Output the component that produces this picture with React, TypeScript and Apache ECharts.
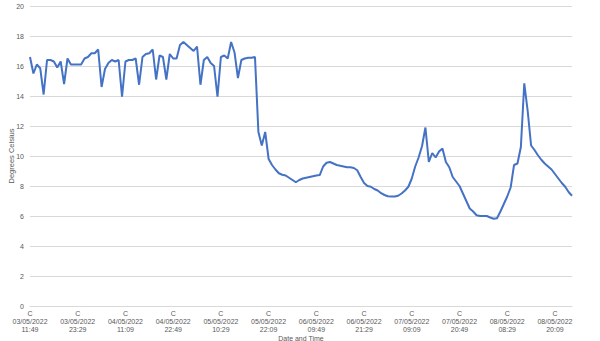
import React, { useEffect, useRef } from "react";
import * as echarts from "echarts";

// Temperature readings (°C), one every 50 minutes starting 03/05/2022 11:49
const temperatures: number[] = [
  16.6, 15.5, 16.1, 15.85, 14.1, 16.4, 16.4, 16.3, 15.9, 16.3,
  14.8, 16.5, 16.1, 16.1, 16.1, 16.1, 16.5, 16.6, 16.85, 16.85,
  17.1, 14.6, 15.8, 16.2, 16.4, 16.3, 16.4, 13.95, 16.3, 16.4,
  16.4, 16.5, 14.75, 16.6, 16.8, 16.85, 17.1, 15.1, 16.7, 16.6,
  15.1, 16.8, 16.5, 16.5, 17.4, 17.6, 17.4, 17.2, 17.0, 17.3,
  14.75, 16.4, 16.6, 16.2, 16.0, 13.95, 16.6, 16.7, 16.5, 17.6,
  16.9, 15.2, 16.4, 16.5, 16.55, 16.55, 16.6, 11.6, 10.7, 11.6,
  9.8, 9.4, 9.1, 8.85, 8.75, 8.7, 8.55, 8.4, 8.25, 8.4,
  8.5, 8.55, 8.6, 8.65, 8.7, 8.73, 9.3, 9.55, 9.6, 9.5,
  9.4, 9.35, 9.3, 9.25, 9.25, 9.2, 9.05, 8.6, 8.2, 8.0,
  7.95, 7.8, 7.7, 7.52, 7.4, 7.32, 7.3, 7.3, 7.35, 7.5,
  7.7, 7.95, 8.5, 9.3, 9.9, 10.65, 11.9, 9.6, 10.2, 9.9,
  10.3, 10.5, 9.6, 9.25, 8.6, 8.3, 8.0, 7.5, 7.0, 6.5,
  6.3, 6.05, 6.0, 6.0, 6.0, 5.9, 5.82, 5.85, 6.3, 6.8,
  7.3, 7.9, 9.4, 9.5, 10.6, 14.85, 13.0, 10.7, 10.4, 10.05,
  9.75, 9.5, 9.3, 9.1, 8.8, 8.5, 8.2, 7.95, 7.6, 7.35,
];

// Tick labels shown every 14 readings
const tickLabels: string[] = [
  "C\n03/05/2022\n11:49",
  "C\n03/05/2022\n23:29",
  "C\n04/05/2022\n11:09",
  "C\n04/05/2022\n22:49",
  "C\n05/05/2022\n10:29",
  "C\n05/05/2022\n22:09",
  "C\n06/05/2022\n09:49",
  "C\n06/05/2022\n21:29",
  "C\n07/05/2022\n09:09",
  "C\n07/05/2022\n20:49",
  "C\n08/05/2022\n08:29",
  "C\n08/05/2022\n20:09",
];

const labelEvery = 14;
const startDay = 3;
const startMinutes = 11 * 60 + 49;
const stepMinutes = 50;

const pad = (n: number) => (n < 10 ? "0" + n : "" + n);
const categories: string[] = temperatures.map((_, i) => {
  const total = startMinutes + i * stepMinutes;
  const day = startDay + Math.floor(total / 1440);
  const m = total % 1440;
  return `${pad(day)}/05/2022 ${pad(Math.floor(m / 60))}:${pad(m % 60)}`;
});

const FONT = "Liberation Sans";

export default function App() {
  const ref = useRef<HTMLDivElement>(null);
  useEffect(() => {
    if (!ref.current) return;
    const chart = echarts.init(ref.current, undefined, { renderer: "svg" });
    chart.setOption({
      animation: false,
      backgroundColor: "#ffffff",
      grid: {
        left: 30,
        right: 28,
        top: 6,
        bottom: 35,
        containLabel: false,
        outerBoundsMode: "none",
      },
      xAxis: {
        type: "category",
        data: categories,
        boundaryGap: false,
        name: "Date and Time",
        nameLocation: "middle",
        nameGap: 28.5,
        nameMoveOverlap: false,
        nameTextStyle: { fontFamily: FONT, fontSize: 7, color: "#595959" },
        axisLine: { show: true, lineStyle: { color: "#d9d9d9", width: 1 } },
        axisTick: { show: false },
        axisLabel: {
          interval: labelEvery - 1,
          fontFamily: FONT,
          fontSize: 7,
          lineHeight: 8.3,
          color: "#595959",
          margin: 3,
          formatter: (_v: string, idx: number) => tickLabels[Math.round(idx / labelEvery)] ?? "",
        },
        splitLine: { show: false },
      },
      yAxis: {
        type: "value",
        min: 0,
        max: 20,
        interval: 2,
        name: "Degrees Celsius",
        nameLocation: "middle",
        nameGap: 15,
        nameRotate: 90,
        nameMoveOverlap: false,
        nameTextStyle: { fontFamily: FONT, fontSize: 7.5, color: "#595959" },
        axisLine: { show: false },
        axisTick: { show: false },
        axisLabel: { fontFamily: FONT, fontSize: 7, color: "#595959", margin: 6 },
        splitLine: { show: true, lineStyle: { color: "#d9d9d9", width: 1 } },
      },
      series: [
        {
          type: "line",
          data: temperatures,
          showSymbol: false,
          symbol: "none",
          lineStyle: { color: "#4472C4", width: 2 },
          itemStyle: { color: "#4472C4" },
        },
      ],
    });
    return () => chart.dispose();
  }, []);
  return (
    <div
      ref={ref}
      style={{ position: "fixed", left: 0, top: 0, width: 600, height: 341, background: "#fff" }}
    />
  );
}
